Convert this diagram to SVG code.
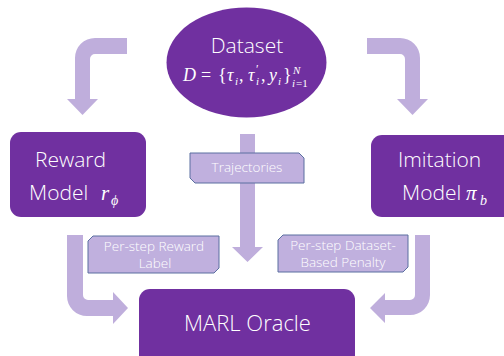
<svg xmlns="http://www.w3.org/2000/svg" width="504" height="356" viewBox="0 0 504 356">
  <style>
    .node { fill: #7030A0; }
    .flow { fill: #BFAEDC; }
    .tag { fill: #C0B0DE; stroke: #5A6FA0; stroke-width: 1; }
    .title { font-family: "Open Sans", "Liberation Sans", sans-serif; font-weight: 300; fill: #FFFFFF; }
    .tagtext { font-family: "Open Sans", "Liberation Sans", sans-serif; font-weight: 300; font-size: 13.5px; fill: #FFFFFF; text-anchor: middle; }
    .math { font-family: "Liberation Serif", "DejaVu Serif", serif; fill: #FFFFFF; }
    .it { font-style: italic; }
  </style>
  <rect width="504" height="356" fill="#FFFFFF"/>

  <!-- connectors -->
  <g id="connectors">
    <path class="flow" d="M127,38 L95,38 A20,20 0 0 0 75,58 L75,99 L67,99 L82.5,115 L98,99 L90,99 L90,59 A5,5 0 0 1 95,54 L127,54 Z"/>
    <path class="flow" d="M367,38 L400,38 A20,20 0 0 1 420,58 L420,99 L428,99 L412.5,115 L397,99 L405,99 L405,59 A5,5 0 0 0 400,54 L367,54 Z"/>
    <path class="flow" d="M240,134 L255,134 L255,247 L263,247 L247.5,262 L232,247 L240,247 Z"/>
    <path class="flow" d="M67,235 L83,235 L83,295 A5,5 0 0 0 88,300 L113,300 L113,292 L128,308 L113,324 L113,316 L87,316 A20,20 0 0 1 67,296 Z"/>
    <path class="flow" d="M430,235 L430,295 A20,20 0 0 1 410,315 L385,315 L385,323 L370,308 L385,293 L385,300 L410,300 A5,5 0 0 0 415,295 L415,235 Z"/>

    <g id="label-trajectories">
      <polygon class="tag" points="190,153 299,153 304,158 304,183 195,183 190,178"/>
      <text class="tagtext" x="247" y="172" font-size="12">Trajectories</text>
    </g>
    <g id="label-reward">
      <polygon class="tag" points="93,236 219,236 219,268 214,273 88,273 88,241"/>
      <text class="tagtext" x="154" y="251">Per-step Reward</text>
      <text class="tagtext" x="155" y="268">Label</text>
    </g>
    <g id="label-penalty">
      <polygon class="tag" points="283,235 408,235 408,267 403,272 278,272 278,240"/>
      <text class="tagtext" x="343" y="250">Per-step Dataset-</text>
      <text class="tagtext" x="343" y="267">Based Penalty</text>
    </g>
  </g>

  <!-- Dataset -->
  <g id="dataset">
    <ellipse class="node" cx="246.5" cy="62.5" rx="80" ry="55"/>
    <text class="title" x="247" y="53" font-size="21" text-anchor="middle">Dataset</text>
    <text class="math it" x="183" y="81" font-size="18">D</text>
    <text class="math" x="201" y="81" font-size="18">=</text>
    <text class="math" x="218" y="81" font-size="18">{</text>
    <text class="math it" x="227" y="81" font-size="18">τ</text>
    <text class="math it" x="235" y="85" font-size="11">i</text>
    <text class="math" x="239" y="81" font-size="18">,</text>
    <text class="math it" x="248" y="81" font-size="18">τ</text>
    <text class="math" x="256" y="73" font-size="12">′</text>
    <text class="math it" x="256" y="85" font-size="11">i</text>
    <text class="math" x="261" y="81" font-size="18">,</text>
    <text class="math it" x="269" y="81" font-size="18">y</text>
    <text class="math it" x="278" y="85" font-size="11">i</text>
    <text class="math" x="283" y="81" font-size="18">}</text>
    <text class="math it" x="293" y="74" font-size="11">N</text>
    <text class="math it" x="292" y="87" font-size="11">i</text>
    <text class="math" x="296" y="87" font-size="11">=1</text>
  </g>

  <!-- Reward model -->
  <g id="reward-model">
    <rect class="node" x="10" y="132" width="136" height="85" rx="11"/>
    <text class="title" x="35" y="167" font-size="21">Reward</text>
    <text class="title" x="29" y="200" font-size="21">Model</text>
    <text class="math it" x="101" y="200" font-size="21">r</text>
    <text class="math it" x="111" y="205" font-size="14">ϕ</text>
  </g>

  <!-- Imitation model -->
  <g id="imitation-model">
    <rect class="node" x="371" y="135" width="145" height="82" rx="11"/>
    <text class="title" x="398" y="167" font-size="21">Imitation</text>
    <text class="title" x="402" y="200" font-size="21">Model</text>
    <text class="math it" x="466" y="200" font-size="21">π</text>
    <text class="math it" x="480" y="205" font-size="14">b</text>
  </g>

  <!-- MARL oracle -->
  <g id="marl-oracle">
    <rect class="node" x="139" y="289" width="216" height="80" rx="11"/>
    <text class="title" x="247.5" y="331" font-size="22" text-anchor="middle">MARL Oracle</text>
  </g>
</svg>
